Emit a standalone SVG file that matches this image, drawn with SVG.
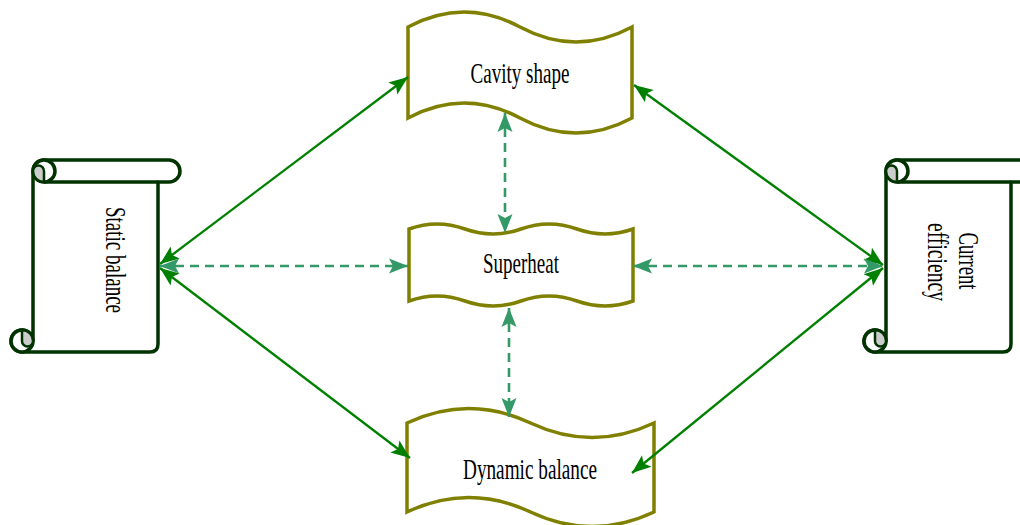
<svg xmlns="http://www.w3.org/2000/svg" width="1020" height="525" viewBox="0 0 1020 525">
<style>
.scroll{fill:#fff;stroke:#003300;stroke-width:3.5;stroke-linejoin:round}
.curl{fill:#cccccc;stroke:#003300;stroke-width:2.5}
.tape{fill:#fff;stroke:#808000;stroke-width:3.5;stroke-linejoin:miter}
.lbl{font-family:"Liberation Serif","Times New Roman",serif;font-size:29px;fill:#000;text-anchor:middle}
.solid{fill:none;stroke:#008000;stroke-width:2.3;marker-start:url(#ag);marker-end:url(#ag)}
.dash{fill:none;stroke:#339966;stroke-width:2.6;stroke-dasharray:9 6;marker-start:url(#at);marker-end:url(#at)}
</style>
<defs>
<marker id="ag" markerUnits="userSpaceOnUse" markerWidth="22" markerHeight="18" viewBox="0 0 22 18" refX="20" refY="9" orient="auto-start-reverse">
<path d="M1,1.5 L20,9 L1,16.5 L5,9 Z" fill="#008000"/>
</marker>
<marker id="at" markerUnits="userSpaceOnUse" markerWidth="22" markerHeight="18" viewBox="0 0 22 18" refX="20" refY="9" orient="auto-start-reverse">
<path d="M1,1.5 L20,9 L1,16.5 L5,9 Z" fill="#339966"/>
</marker>
<g id="scrollShape">
<path class="scroll" d="M22,352 A11,11 0 1 1 33,341 L33,171 A11,11 0 0 1 44,160 L169,160 A11,11 0 0 1 169,182 L158,182 L158,344 Q158,352 150,352 Z"/>
<path class="scroll" d="M44,182 L158,182"/>
<circle class="scroll" cx="44" cy="171" r="11"/>
<path class="curl" d="M44,182 A11,11 0 0 1 33,171 A5.5,5.5 0 0 1 44,171 Z"/>
<circle class="scroll" cx="22" cy="341" r="11"/>
<path class="curl" d="M22,330 A11,11 0 0 1 33,341 A5.5,5.5 0 0 1 22,341 Z"/>
</g>
</defs>

<g id="static-balance">
<use href="#scrollShape"/>
<text class="lbl" transform="translate(106,260) rotate(90)" textLength="106" lengthAdjust="spacingAndGlyphs">Static balance</text>
</g>

<g id="current-efficiency">
<use href="#scrollShape" transform="translate(853,0)"/>
<text class="lbl" transform="translate(959,261) rotate(90)" textLength="57" lengthAdjust="spacingAndGlyphs">Current</text>
<text class="lbl" transform="translate(928,262) rotate(90)" textLength="78" lengthAdjust="spacingAndGlyphs">efficiency</text>
</g>

<g id="cavity-shape">
<path class="tape" d="M408,27 Q464,-3 520,27 Q576,57 632,27 L632,118 Q576,148 520,118 Q464,88 408,118 Z"/>
<text class="lbl" x="520" y="83" textLength="99" lengthAdjust="spacingAndGlyphs">Cavity shape</text>
</g>

<g id="superheat">
<path class="tape" d="M409,229 C427.7,222.3 446.3,222.3 465,229 C483.7,235.7 502.3,235.7 521,229 C539.7,222.3 558.3,222.3 577,229 C595.7,235.7 614.3,235.7 633,229 L633,301 C614.3,307.7 595.7,307.7 577,301 C558.3,294.3 539.7,294.3 521,301 C502.3,307.7 483.7,307.7 465,301 C446.3,294.3 427.7,294.3 409,301 Z"/>
<text class="lbl" x="521" y="273" textLength="76" lengthAdjust="spacingAndGlyphs">Superheat</text>
</g>

<g id="dynamic-balance">
<path class="tape" d="M407,423 Q468.75,394 530.5,423 Q592.25,452 654,423 L654,512 Q592.25,541 530.5,512 Q468.75,483 407,512 Z"/>
<text class="lbl" x="530" y="479" textLength="134" lengthAdjust="spacingAndGlyphs">Dynamic balance</text>
</g>

<g id="connectors">
<path class="solid" d="M160,264 L408,77"/>
<path class="solid" d="M160,268 L410,458"/>
<path class="solid" d="M634,85 L883,265"/>
<path class="solid" d="M632,473 L883,268"/>
<path class="dash" d="M160,266 L408,266"/>
<path class="dash" d="M633,266 L883,266"/>
<path class="dash" d="M505,113 L505,233"/>
<path class="dash" d="M509,308 L509,417"/>
</g>
</svg>
